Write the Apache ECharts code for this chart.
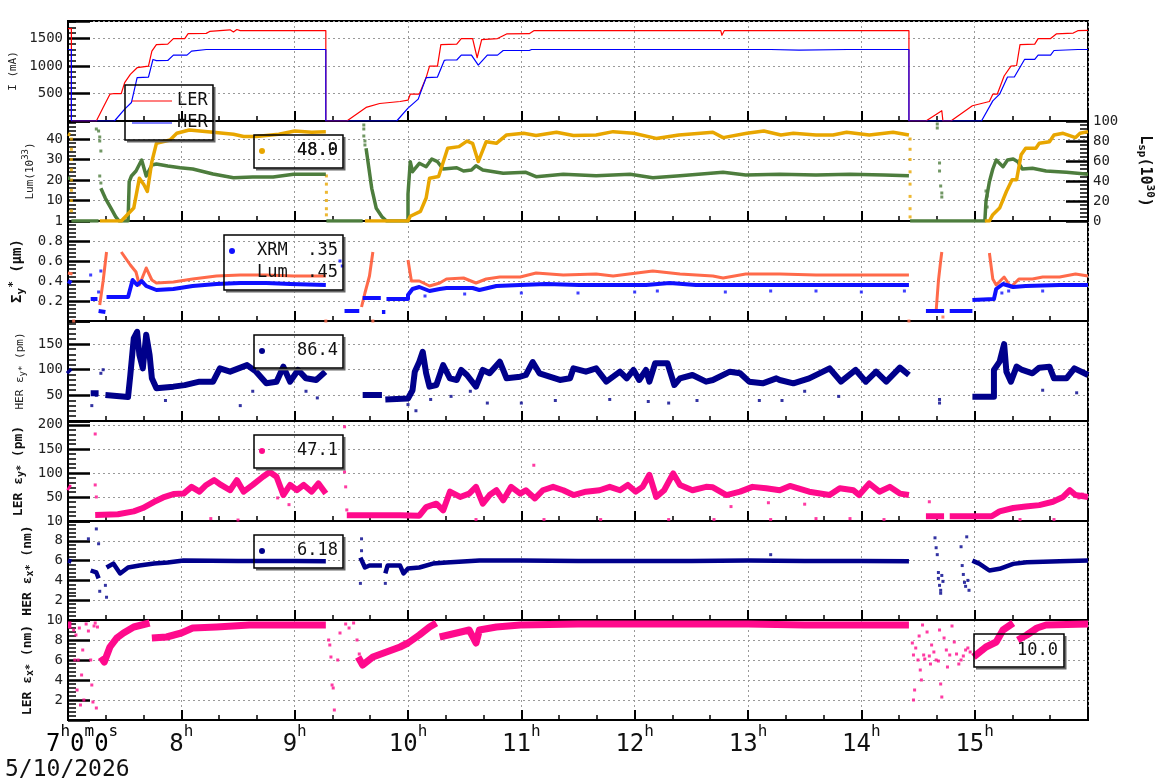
<!DOCTYPE html>
<html>
<head>
<meta charset="utf-8">
<script src="https://cdn.jsdelivr.net/npm/echarts@6/dist/echarts.min.js"></script>
<style>
html, body { margin: 0; padding: 0; background: #fff; }
#main { width: 1160px; height: 782px; }
</style>
</head>
<body>
<div id="main"></div>
<script>
var GAP = ['-', '-'];

// time in hours, value
var lerCurrent = [[7.0,1680],[7.03,1680],[7.03,0],[7.25,0],[7.31,247],[7.37,488],[7.41,500],[7.47,500],[7.50,699],[7.55,849],[7.61,970],[7.62,1000],[7.71,1000],[7.74,1271],[7.78,1391],[7.88,1400],[7.93,1500],[8.03,1500],[8.06,1590],[8.22,1595],[8.25,1630],[8.43,1660],[8.46,1620],[8.49,1665],[8.52,1644],[9.275,1644],[9.275,0],[9.46,0],[9.63,247],[9.75,319],[9.93,355],[10.0,379],[10.02,488],[10.10,490],[10.16,790],[10.19,1000],[10.26,1000],[10.29,1391],[10.30,1400],[10.43,1400],[10.47,1500],[10.57,1500],[10.61,1151],[10.65,1482],[10.79,1500],[10.87,1584],[11.07,1590],[11.11,1644],[12.76,1644],[12.77,1560],[12.79,1644],[14.42,1644],[14.42,0],[14.57,0],[14.71,187],[14.72,0],[14.79,0],[14.98,277],[15.13,355],[15.16,488],[15.20,490],[15.26,819],[15.32,1000],[15.37,1010],[15.40,1391],[15.53,1400],[15.56,1500],[15.67,1500],[15.72,1584],[15.87,1600],[15.91,1644],[16.0,1650]];
var herCurrent = [[7.0,1301],[7.03,1301],[7.03,0],[7.41,0],[7.50,217],[7.56,337],[7.61,789],[7.62,800],[7.71,800],[7.75,1120],[7.78,1100],[7.88,1102],[7.93,1199],[8.05,1199],[8.09,1271],[8.22,1301],[8.45,1301],[8.46,1280],[8.48,1301],[9.275,1301],[9.275,0],[9.90,0],[10.0,235],[10.09,398],[10.16,789],[10.26,800],[10.32,1102],[10.34,1110],[10.43,1110],[10.47,1199],[10.56,1199],[10.62,1018],[10.70,1199],[10.79,1199],[10.84,1283],[11.07,1283],[11.09,1301],[12.76,1301],[12.77,1280],[12.80,1301],[13.20,1301],[13.21,1290],[13.45,1290],[13.46,1301],[13.88,1301],[13.89,1290],[13.90,1301],[14.42,1301],[14.42,0],[15.06,0],[15.16,367],[15.22,488],[15.29,801],[15.35,801],[15.44,1120],[15.53,1120],[15.56,1199],[15.67,1199],[15.70,1283],[15.91,1301],[16.0,1301]];

var lum = [[7.0,42.5],[7.02,42.0],GAP,[7.28,0],[7.47,0],[7.58,6.3],[7.63,20.9],[7.67,17.7],[7.70,14.4],[7.74,29.0],[7.78,37.9],[7.90,39.5],[7.96,42.8],[8.07,44.4],[8.28,43.3],[8.46,42.3],[8.55,41.2],[8.66,41.2],[8.86,42.3],[9.0,43.9],[9.15,43.3],[9.275,43.6],GAP,[9.62,0],[10.0,0],[10.02,2.3],[10.11,4.7],[10.16,11.2],[10.19,20.9],[10.27,21.7],[10.35,35.5],[10.45,36.3],[10.52,39.0],[10.57,37.9],[10.62,29.0],[10.69,38.7],[10.78,37.9],[10.87,42.0],[11.02,42.8],[11.13,41.7],[11.31,43.3],[11.46,41.7],[11.66,42.0],[11.81,43.6],[11.99,42.8],[12.19,40.3],[12.39,42.0],[12.69,43.3],[12.78,40.7],[12.99,42.8],[13.14,43.9],[13.29,42.0],[13.40,42.8],[13.60,42.0],[13.75,42.0],[13.87,43.3],[14.07,42.0],[14.28,43.3],[14.42,42.0],GAP,[15.09,0],[15.13,0],[15.16,3.1],[15.22,6.3],[15.28,14.4],[15.33,20.1],[15.37,20.1],[15.41,32.3],[15.45,35.5],[15.54,35.5],[15.57,37.9],[15.66,38.7],[15.70,42.0],[15.78,42.8],[15.89,40.7],[15.93,42.8],[16.0,43.6]];
var lumDots = [[7.03,40],[7.03,35],[7.03,30],[7.03,25],[7.03,20],[7.03,15],[7.03,10],[7.03,5],[9.28,22],[9.28,18],[9.28,14],[9.28,10],[9.28,6],[9.28,3],[14.43,40],[14.43,35],[14.43,30],[14.43,24],[14.43,18],[14.43,12],[14.43,6],[14.43,2]];
var lsp = [[7.0,42.7],[7.02,42.7],GAP,[7.03,0],[7.27,0],GAP,[7.29,32.7],[7.33,22.7],[7.38,12.7],[7.42,4.3],[7.45,0],[7.53,0],[7.54,39.3],[7.56,45],[7.60,50],[7.65,61],[7.69,45],[7.74,56],[7.78,57],[7.88,55],[7.99,53.3],[8.10,52],[8.28,47],[8.46,43.3],[8.63,44],[8.81,44],[8.99,46.7],[9.275,46.7],GAP,[9.28,0],[9.60,0],GAP,[9.63,72.7],[9.68,32.7],[9.72,12.7],[9.77,4.3],[9.81,0],[10.0,0],[10.0,27],[10.02,59.3],[10.04,49.3],[10.10,57.7],[10.16,54.3],[10.21,62],[10.26,59.3],[10.31,52],[10.43,53.3],[10.49,50],[10.56,51],[10.60,55.3],[10.66,51],[10.84,47.7],[11.04,48.7],[11.13,44.3],[11.37,46.7],[11.66,45.3],[11.96,46.7],[12.16,43.3],[12.40,45.3],[12.78,48.7],[12.98,46],[13.28,46.7],[13.6,46],[13.9,46.7],[14.2,46],[14.42,45.3],GAP,[14.43,0],[15.09,0],[15.10,20],[15.13,39.3],[15.16,52],[15.19,61],[15.25,54.3],[15.29,61],[15.34,62],[15.38,59.3],[15.42,52],[15.51,52.7],[15.63,50],[15.81,48.7],[16.0,46.7]];
var lspDots = [[7.25,92],[7.27,90],[7.28,84],[7.28,80],[7.29,70],[7.28,45],[7.29,38],[9.61,96],[9.61,92],[9.61,85],[9.62,80],[9.62,76],[14.67,97],[14.67,93],[14.69,58],[14.69,50],[14.70,35],[14.71,28],[14.71,24],[15.10,30],[15.11,25],[15.11,14]];

var sigmaLum = [[7.0,0.48],[7.04,0.47],GAP,[7.28,0.16],[7.31,0.40],[7.34,0.69],GAP,[7.47,0.69],[7.55,0.56],[7.60,0.49],[7.63,0.36],[7.69,0.53],[7.74,0.41],[7.78,0.38],[7.93,0.39],[8.10,0.42],[8.31,0.45],[8.52,0.46],[8.75,0.46],[8.99,0.45],[9.275,0.45],GAP,[9.59,0.14],[9.62,0.28],[9.66,0.45],[9.69,0.69],GAP,[10.0,0.61],[10.03,0.40],[10.10,0.40],[10.19,0.35],[10.28,0.38],[10.34,0.42],[10.49,0.43],[10.60,0.38],[10.69,0.42],[10.81,0.44],[10.99,0.44],[11.13,0.48],[11.37,0.46],[11.66,0.47],[11.81,0.45],[12.16,0.50],[12.40,0.47],[12.69,0.45],[12.78,0.43],[12.98,0.47],[13.28,0.47],[13.6,0.46],[13.9,0.46],[14.2,0.46],[14.42,0.46],GAP,[14.66,0.10],[14.68,0.40],[14.70,0.60],[14.71,0.69],GAP,[15.13,0.68],[15.16,0.42],[15.19,0.36],[15.26,0.44],[15.32,0.34],[15.39,0.42],[15.51,0.42],[15.60,0.44],[15.75,0.44],[15.89,0.47],[16.0,0.45]];
var sigmaXrm = [[7.0,0.40],[7.03,0.38],GAP,[7.20,0.22],[7.26,0.22],GAP,[7.27,0.10],[7.33,0.09],GAP,[7.34,0.24],[7.53,0.24],[7.57,0.41],[7.61,0.36],[7.65,0.40],[7.69,0.35],[7.78,0.31],[7.93,0.32],[8.10,0.35],[8.31,0.37],[8.52,0.38],[8.75,0.38],[8.96,0.37],[9.275,0.36],GAP,[9.44,0.10],[9.57,0.10],GAP,[9.60,0.23],[9.76,0.23],GAP,[9.77,0.09],[9.80,0.09],GAP,[9.81,0.22],[10.0,0.22],[10.0,0.26],[10.04,0.32],[10.10,0.34],[10.19,0.30],[10.28,0.32],[10.34,0.33],[10.57,0.33],[10.63,0.31],[10.78,0.35],[10.99,0.36],[11.22,0.37],[11.51,0.36],[11.81,0.36],[12.10,0.36],[12.31,0.38],[12.54,0.36],[12.84,0.36],[13.28,0.36],[13.7,0.36],[14.1,0.36],[14.42,0.36],GAP,[14.57,0.10],[14.73,0.10],GAP,[14.78,0.10],[14.98,0.10],GAP,[14.98,0.21],[15.17,0.22],[15.19,0.32],[15.25,0.37],[15.34,0.34],[15.45,0.35],[15.75,0.36],[16.0,0.36]];
var sigmaXrmDots = [[7.20,0.46],[7.27,0.29],[7.29,0.50],[9.40,0.60],[9.42,0.55],[10.15,0.25],[10.5,0.27],[11.0,0.28],[11.5,0.28],[12.0,0.29],[12.2,0.30],[12.8,0.29],[13.2,0.30],[13.6,0.30],[14.0,0.29],[14.38,0.30],[15.24,0.28],[15.30,0.30],[15.6,0.30]];
var sigmaLumDots = [[7.05,0.0],[9.275,0.0],[9.69,0.0],[14.42,0.0],[14.72,0.04]];

var herEy = [[7.0,99.5],[7.02,95],GAP,[7.20,54],[7.27,54],GAP,[7.33,50.7],[7.53,47],[7.55,89.7],[7.58,161],[7.61,174],[7.63,128.7],[7.66,102.7],[7.69,168],[7.72,128.7],[7.74,83.2],[7.78,63.7],[7.93,67],[8.03,70],[8.16,76.7],[8.28,76.7],[8.34,102.7],[8.43,96.2],[8.58,109],[8.66,96.2],[8.75,73.5],[8.84,76.7],[8.90,106],[8.96,76.7],[9.03,99.5],[9.10,83.2],[9.19,80],[9.27,96.2],GAP,[9.60,50.7],[9.77,50.7],GAP,[9.80,42],[10.0,44],[10.04,60],[10.06,96.2],[10.10,115.7],[10.13,135],[10.16,93],[10.19,67],[10.25,70.2],[10.31,109],[10.37,83.2],[10.43,80],[10.47,99.5],[10.52,89.7],[10.60,67],[10.66,99.5],[10.72,93],[10.81,115.7],[10.87,83.2],[10.99,86.4],[11.04,89.7],[11.10,115],[11.16,93],[11.25,86.4],[11.34,80],[11.43,83.2],[11.46,102.7],[11.57,96.2],[11.66,102.7],[11.75,76.7],[11.87,96.2],[11.93,83.2],[11.99,99.5],[12.04,80],[12.10,99.5],[12.13,76.7],[12.18,112.5],[12.29,112.5],[12.35,70.2],[12.40,83.2],[12.51,89.7],[12.63,76.7],[12.69,80],[12.84,96.2],[12.93,93],[13.01,76.7],[13.13,73.5],[13.25,83.2],[13.28,80],[13.40,73.5],[13.54,83.2],[13.72,102.7],[13.82,76.7],[13.95,99.5],[14.04,76.7],[14.13,96.2],[14.22,76.7],[14.34,104],[14.42,89.7],GAP,[14.98,47.4],[15.17,47.4],[15.17,99.5],[15.22,115.7],[15.26,150],[15.28,96.2],[15.32,76.7],[15.37,106],[15.42,99.5],[15.51,93],[15.57,104],[15.66,106],[15.70,83.2],[15.81,83.2],[15.88,102.7],[16.0,89.7]];
var herEyDots = [[7.21,30],[7.25,50],[7.29,93],[7.31,100],[7.86,40],[8.52,30],[8.63,58],[9.20,45],[9.10,58],[10.0,32],[10.07,20],[10.2,42],[10.38,48],[10.55,58],[10.7,35],[11.0,35],[11.3,40],[11.78,42],[12.12,38],[12.3,35],[12.55,40],[13.1,40],[13.3,40],[14.69,35],[14.69,42],[15.9,55],[15.6,60],[13.5,58],[13.8,48]];

var lerEy = [[7.0,71],[7.02,68],GAP,[7.24,12.5],[7.44,14],[7.58,20],[7.66,27],[7.76,40],[7.84,49],[7.93,56],[8.02,57],[8.09,71],[8.16,61],[8.22,75],[8.29,85],[8.35,75],[8.43,64],[8.49,85],[8.55,61],[8.63,75],[8.72,92],[8.78,102],[8.84,92],[8.90,54],[8.96,75],[9.02,64],[9.08,75],[9.15,61],[9.21,78],[9.275,57],GAP,[9.46,12],[9.93,12],[10.1,11],[10.16,29],[10.25,36],[10.31,22],[10.37,61],[10.46,50],[10.54,57],[10.60,71],[10.66,36],[10.72,54],[10.78,64],[10.84,43],[10.91,71],[10.99,57],[11.04,64],[11.12,47],[11.19,64],[11.28,71],[11.37,64],[11.46,54],[11.57,61],[11.69,64],[11.78,71],[11.87,64],[11.94,75],[12.01,61],[12.07,71],[12.13,96],[12.19,50],[12.26,64],[12.34,99],[12.40,75],[12.51,64],[12.63,71],[12.69,70],[12.81,54],[12.93,61],[13.04,71],[13.16,68],[13.28,64],[13.37,73],[13.54,61],[13.72,54],[13.81,68],[13.93,64],[13.98,54],[14.07,78],[14.16,61],[14.25,71],[14.34,57],[14.42,54],GAP,[14.57,10],[14.73,10],GAP,[14.78,10],[15.15,10],[15.22,20],[15.34,27],[15.45,30],[15.57,33],[15.69,40],[15.78,50],[15.84,64],[15.89,54],[16.0,50]];
var lerEyDots = [[7.24,181],[7.24,75],[7.25,50],[8.50,2],[8.26,5],[9.44,196],[9.44,102],[9.45,71],[9.46,23],[10.6,3],[11.2,3],[11.7,3],[12.3,3],[12.7,3],[13.2,3],[13.6,5],[13.9,5],[14.2,3],[15.4,3],[15.7,3],[11.11,116],[12.85,30],[13.18,38],[13.5,35],[8.85,48],[8.95,34],[15.92,48],[15.95,56],[14.6,40]];

var herEx = [[7.0,6.0],[7.03,5.9],GAP,[7.20,5.0],[7.25,4.8],[7.27,4.2],GAP,[7.34,5.3],[7.40,5.7],[7.46,4.7],[7.53,5.3],[7.63,5.5],[7.76,5.7],[7.88,5.8],[8.02,6.0],[8.5,5.95],[9.0,5.95],[9.275,5.93],GAP,[9.58,6.3],[9.62,5.3],[9.66,5.5],[9.77,5.5],GAP,[9.80,4.7],[9.82,5.5],[9.93,5.5],[9.96,4.7],[10.0,5.2],[10.10,5.3],[10.22,5.7],[10.34,5.8],[10.63,6.0],[11.0,6.0],[11.5,5.95],[12.0,5.95],[12.5,5.95],[13.0,6.0],[13.5,5.95],[14.0,5.95],[14.42,5.93],GAP,[14.98,6.0],[15.04,5.7],[15.13,5.0],[15.22,5.17],[15.34,5.67],[15.46,5.83],[15.75,5.93],[16.0,6.0]];
var herExDots = [[14.65,8.3],[14.66,7.3],[14.67,6.6],[14.68,4.8],[14.68,4.2],[14.69,3.5],[14.70,3.0],[14.70,2.7],[14.71,4.5],[14.72,3.9],[14.88,7.4],[14.89,5.5],[14.90,4.6],[14.91,3.8],[14.92,3.4],[14.93,8.4],[14.94,4.0],[14.95,3.0],[7.18,8.2],[7.25,9.2],[7.27,7.7],[7.28,2.9],[7.34,2.3],[7.33,3.5],[9.59,8.2],[9.59,7.0],[9.58,3.7],[9.80,3.7],[13.2,6.6]];

var lerEx = [[7.0,9.5],[7.03,9.5],GAP,[7.29,6.3],[7.32,5.8],[7.37,7.3],[7.43,8.2],[7.49,8.7],[7.58,9.3],[7.72,9.7],GAP,[7.74,8.2],[7.87,8.3],[8.0,8.7],[8.10,9.2],[8.31,9.3],[8.6,9.5],[9.0,9.5],[9.275,9.5],GAP,[9.56,6.3],[9.60,5.5],[9.69,6.3],[9.81,6.8],[9.93,7.3],[10.0,7.7],[10.10,8.5],[10.19,9.3],[10.25,9.7],GAP,[10.28,8.3],[10.43,8.7],[10.54,9.0],[10.60,7.7],[10.63,9.0],[10.78,9.3],[10.99,9.5],[11.5,9.6],[12.0,9.6],[12.5,9.6],[13.0,9.6],[13.5,9.5],[14.0,9.5],[14.42,9.5],GAP,[14.99,6.3],[15.10,7.3],[15.19,7.8],[15.25,9.0],[15.34,9.7],GAP,[15.38,8.0],[15.46,8.5],[15.55,9.2],[15.63,9.5],[16.0,9.6]];
var lerExDots = [[7.05,9.0],[7.06,6.0],[7.07,8.5],[7.08,3.0],[7.09,6.0],[7.10,9.2],[7.11,1.5],[7.12,4.5],[7.13,7.0],[7.14,2.0],[7.16,9.6],[7.18,8.9],[7.20,6.0],[7.21,3.5],[7.22,1.8],[7.23,9.4],[7.24,9.7],[7.25,1.2],[7.26,9.3],[9.30,8.0],[9.31,7.5],[9.32,6.3],[9.33,3.5],[9.34,3.2],[9.35,1.0],[9.38,6.0],[9.40,8.7],[9.45,9.6],[9.48,9.2],[9.52,9.7],[9.55,8.0],[9.57,6.6],[14.45,7.7],[14.46,6.5],[14.46,2.0],[14.47,3.0],[14.48,7.2],[14.50,6.0],[14.51,8.4],[14.52,5.0],[14.53,4.0],[14.54,9.5],[14.55,6.5],[14.56,6.1],[14.58,8.8],[14.60,6.4],[14.61,5.6],[14.62,7.5],[14.64,6.8],[14.66,6.0],[14.68,5.9],[14.69,9.0],[14.70,3.6],[14.71,2.3],[14.73,8.2],[14.75,7.0],[14.76,5.3],[14.78,6.5],[14.80,9.4],[14.82,7.8],[14.84,6.6],[14.86,5.6],[14.88,6.0],[14.90,6.4],[14.92,7.0],[14.94,7.2],[14.96,6.8]];

var panelTops = [21, 121, 221, 321, 421, 521, 620];
var panelHeights = [100, 100, 100, 100, 100, 99, 100];
var FONT = 'DejaVu Sans Mono';

var timeRich = {
    d: { fontSize: 24, fontFamily: FONT, color: '#111', padding: [9, 0, 0, 0] },
    s: { fontSize: 16, fontFamily: FONT, color: '#111', verticalAlign: 'top' }
};

function shownLabels(list, fmt) {
    return function (v) {
        for (var i = 0; i < list.length; i++) {
            if (Math.abs(v - list[i]) < 1e-6) return fmt ? fmt(list[i]) : String(list[i]);
        }
        return '';
    };
}

function makeX(i) {
    var last = i === 6;
    return {
        type: 'value', gridIndex: i, min: 7, max: 16, interval: 1,
        axisLine: { show: true, onZero: false, lineStyle: { color: '#000', width: 2 } },
        axisTick: { show: true, inside: true, length: 10, lineStyle: { color: '#000', width: 2 } },
        minorTick: { show: true, splitNumber: 3, length: 5, lineStyle: { color: '#000', width: 1.5 } },
        splitLine: { show: true, lineStyle: { color: '#999', width: 1, type: [2, 3] } },
        axisLabel: last ? {
            show: true, margin: 4, color: '#111', fontFamily: FONT,
            formatter: function (v) {
                // first label is drawn as a graphic, it sits off-centre in the original
                if (v <= 7 || v >= 16) return '';
                return '{d|' + v + '}{s|h}';
            },
            rich: timeRich
        } : { show: false }
    };
}

function makeY(grid, min, max, interval, labels, name, nameGap, nameStyle, extra) {
    var y = {
        type: 'value', gridIndex: grid, min: min, max: max, interval: interval,
        axisLine: { show: true, onZero: false, lineStyle: { color: '#000', width: 2 } },
        axisTick: { show: true, inside: true, length: 22, lineStyle: { color: '#000', width: 2.5 } },
        minorTick: { show: true, splitNumber: 5, length: 8, lineStyle: { color: '#000', width: 1.5 } },
        splitLine: { show: true, lineStyle: { color: '#999', width: 1, type: [2, 3] } },
        axisLabel: { margin: 5, fontSize: 14, fontFamily: FONT, color: '#222', formatter: labels },
        name: name, nameLocation: 'middle', nameGap: nameGap, nameTextStyle: nameStyle
    };
    if (extra) for (var k in extra) y[k] = extra[k];
    return y;
}

var smallName = { fontSize: 11, fontFamily: FONT, color: '#222',
    rich: { sub: { fontSize: 9, fontFamily: FONT, padding: [0, 0, -5, 0] }, sup: { fontSize: 9, fontFamily: FONT, padding: [0, 0, 8, 0] } } };
var boldName = { fontSize: 13, fontWeight: 'bold', fontFamily: FONT, color: '#111',
    rich: { sub: { fontSize: 10, fontWeight: 'bold', fontFamily: FONT, padding: [0, 0, -6, 0] }, sup: { fontSize: 10, fontWeight: 'bold', fontFamily: FONT, padding: [0, 0, 9, 0] } } };

var grids = [], xAxes = [];
for (var i = 0; i < 7; i++) {
    grids.push({ left: 68, right: 72, top: panelTops[i], height: panelHeights[i],
        show: true, borderColor: '#000', borderWidth: 2, outerBoundsMode: 'none' });
    xAxes.push(makeX(i));
}

var yAxes = [
    makeY(0, 0, 1820, 500, shownLabels([500, 1000, 1500]), 'I (mA)', 41, smallName),
    makeY(1, 0, 48.8, 10, shownLabels([10, 20, 30, 40]), 'Lum(10{sup|33})', 23, smallName),
    makeY(1, 0, 100, 20, shownLabels([0, 20, 40, 60, 80, 100]), 'L{sub|sp}(10{sup|30})', 46,
        { fontSize: 15, fontWeight: 'bold', fontFamily: FONT, color: '#111',
          rich: { sub: { fontSize: 11, fontWeight: 'bold', fontFamily: FONT, padding: [0, 0, -6, 0] }, sup: { fontSize: 11, fontWeight: 'bold', fontFamily: FONT, padding: [0, 0, 10, 0] } } },
        { position: 'right', nameRotate: -90, splitLine: { show: false } }),
    makeY(2, 0, 1, 0.2, shownLabels([0.2, 0.4, 0.6, 0.8, 1], function (v) { return v === 1 ? '1' : v.toFixed(1); }),
        '\u03a3{sub|y}{sup|*} (\u03bcm)', 38,
        { fontSize: 14, fontWeight: 'bold', fontFamily: FONT, color: '#111',
          rich: { sub: { fontSize: 11, fontWeight: 'bold', fontFamily: FONT, padding: [0, 0, -7, 0] }, sup: { fontSize: 11, fontWeight: 'bold', fontFamily: FONT, padding: [0, 0, 10, 0] } } }),
    makeY(3, 0, 195, 50, shownLabels([50, 100, 150]), 'HER \u03b5{sub|y*} (pm)', 36, smallName),
    makeY(4, 0, 208, 50, shownLabels([50, 100, 150, 200]), 'LER \u03b5{sub|y*} (pm)', 40, boldName),
    makeY(5, 0, 10, 2, shownLabels([2, 4, 6, 8, 10]), 'HER \u03b5{sub|x*} (nm)', 30, boldName),
    makeY(6, 0, 10, 2, shownLabels([2, 4, 6, 8, 10]), 'LER \u03b5{sub|x*} (nm)', 31, boldName)
];

function band(data, x, y, color, width) {
    return { type: 'line', xAxisIndex: x, yAxisIndex: y, data: data, showSymbol: false,
        connectNulls: false, lineStyle: { color: color, width: width, join: 'round' }, itemStyle: { color: color } };
}
function dots(data, x, y, color, size) {
    return { type: 'scatter', xAxisIndex: x, yAxisIndex: y, data: data, symbol: 'rect',
        symbolSize: size || 3, itemStyle: { color: color } };
}

var ORANGE = '#e8a600', GREEN = '#4d7d3d', TOMATO = '#ff6a4a', BLUE = '#1010ff', NAVY = '#00008b', PINK = '#ff0a8c';

var series = [
    band(lerCurrent, 0, 0, '#ff0000', 1.2),
    band(herCurrent, 0, 0, '#0000ff', 1.2),
    band(lsp, 1, 2, GREEN, 3.5),
    dots(lspDots, 1, 2, GREEN),
    band(lum, 1, 1, ORANGE, 3.5),
    dots(lumDots, 1, 1, ORANGE),
    band(sigmaLum, 2, 3, TOMATO, 3),
    dots(sigmaLumDots, 2, 3, TOMATO),
    band(sigmaXrm, 2, 3, BLUE, 4),
    dots(sigmaXrmDots, 2, 3, BLUE),
    band(herEy, 3, 4, NAVY, 6),
    dots(herEyDots, 3, 4, NAVY),
    band(lerEy, 4, 5, PINK, 6),
    dots(lerEyDots, 4, 5, PINK),
    band(herEx, 5, 6, NAVY, 4.5),
    dots(herExDots, 5, 6, NAVY),
    band(lerEx, 6, 7, PINK, 7),
    dots(lerExDots, 6, 7, PINK)
];

// legend boxes
function box(x, y, w, h) {
    return [
        { type: 'polyline', z: 100, shape: { points: [[x + w + 1.5, y + 2], [x + w + 1.5, y + h + 1.5], [x + 2, y + h + 1.5]] },
          style: { fill: 'none', stroke: '#666', lineWidth: 2 } },
        { type: 'rect', z: 101, shape: { x: x, y: y, width: w, height: h }, style: { fill: 'none', stroke: '#000', lineWidth: 1.5 } }
    ];
}
function txt(x, y, s, align) {
    return { type: 'text', z: 102, x: x, y: y,
        style: { text: s, fontSize: 17, fontFamily: FONT, fill: '#111', align: align || 'right', verticalAlign: 'middle' } };
}
function dot(x, y, color) {
    return { type: 'circle', z: 102, shape: { cx: x, cy: y, r: 3 }, style: { fill: color } };
}

var graphics = [].concat(
    box(125, 85, 88, 55),
    [{ type: 'line', z: 102, shape: { x1: 132, y1: 101, x2: 172, y2: 101 }, style: { stroke: '#ff0000', lineWidth: 1.2 } },
     txt(177, 101, 'LER', 'left'),
     { type: 'line', z: 102, shape: { x1: 132, y1: 123, x2: 172, y2: 123 }, style: { stroke: '#0000ff', lineWidth: 1.2 } },
     txt(177, 123, 'HER', 'left')],
    box(254, 135, 89, 33),
    [dot(262, 151, ORANGE), txt(338, 151, '48.0'), txt(338, 151, '48.9')],
    box(224, 235, 119, 55),
    [dot(232, 251, BLUE), txt(257, 251, 'XRM', 'left'), txt(338, 251, '.35'),
     txt(257, 273, 'Lum', 'left'), txt(338, 273, '.45')],
    box(254, 335, 89, 33),
    [dot(262, 351, NAVY), txt(338, 351, '86.4')],
    box(254, 435, 89, 33),
    [dot(262, 451, PINK), txt(338, 451, '47.1')],
    box(254, 535, 89, 33),
    [dot(262, 551, NAVY), txt(338, 551, '6.18')],
    box(974, 634, 90, 33),
    [dot(982, 650, PINK), txt(1058, 651, '10.0')],
    [{ type: 'text', z: 102, x: 46, y: 724,
       style: { text: '{d|7}{s|h}{d|0}{s|m}{d|0}{s|s}', rich: timeRich, align: 'left', verticalAlign: 'top' } },
     { type: 'text', z: 102, x: 5, y: 770,
       style: { text: '5/10/2026', fontSize: 23, fontFamily: FONT, fill: '#111', align: 'left', verticalAlign: 'middle' } }]
);

var chart = echarts.init(document.getElementById('main'), null, { renderer: 'canvas' });
var option = {
    animation: false,
    backgroundColor: '#fff',
    grid: grids,
    xAxis: xAxes,
    yAxis: yAxes,
    series: series,
    graphic: graphics
};
chart.setOption(option);
</script>
</body>
</html>
